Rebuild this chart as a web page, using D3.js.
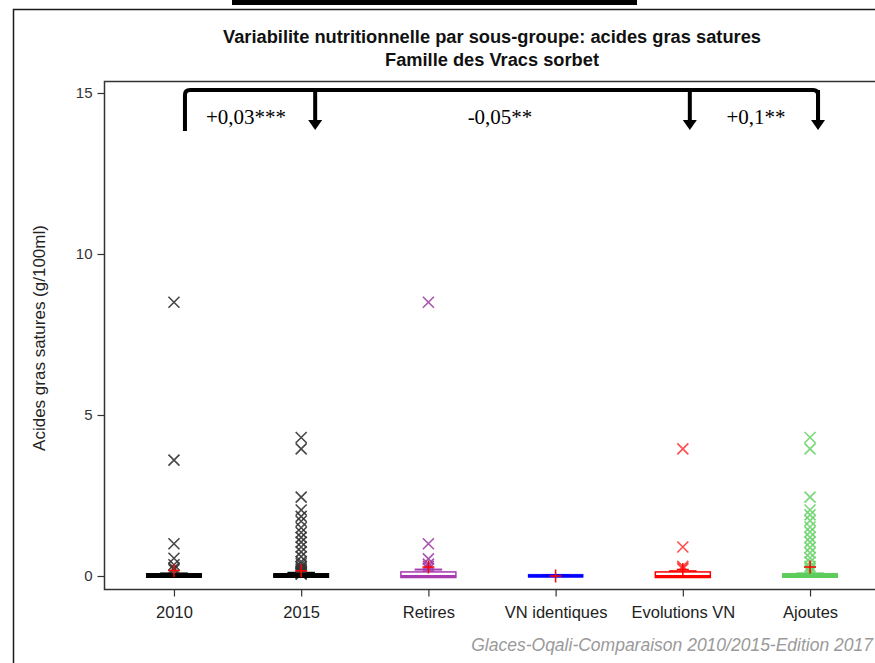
<!DOCTYPE html>
<html>
<head>
<meta charset="utf-8">
<script src="https://cdn.jsdelivr.net/npm/d3@7"></script>
<style>
  html, body { margin: 0; padding: 0; background: #fff; }
  svg { display: block; }
</style>
</head>
<body>
<svg id="chart" width="875" height="663"></svg>
<script>
// Sub-groups shown on the x axis
const categories = ["2010", "2015", "Retires", "VN identiques", "Evolutions VN", "Ajoutes"];

// Box statistics per sub-group (g/100ml)
const boxQ1      = [0, 0, 0, 0, 0, 0];
const boxMedian  = [0, 0, 0, 0, 0, 0];
const boxQ3      = [0.03, 0.03, 0.08, 0.01, 0.08, 0.03];
const whiskerHigh= [0.08, 0.1, 0.2, 0.02, 0.15, 0.08];
const means      = [0.17, 0.16, 0.28, 0.0, 0.2, 0.28];

// Outlying products per sub-group
const outliers2010   = [8.5, 3.6, 1.0, 0.55, 0.35, 0.25, 0.2];
const outliers2015   = [4.3, 3.95, 2.45, 2.05, 1.85, 1.7, 1.5, 1.35, 1.2, 1.05, 0.9, 0.75, 0.6, 0.45, 0.38, 0.3, 0.25, 0.2, 0.15, 0.12, 0.1, 0.08, 0.06];
const outliersRetires= [8.5, 1.0, 0.53, 0.37, 0.3, 0.22];
const outliersVN     = [];
const outliersEvol   = [3.95, 0.9, 0.3, 0.25, 0.22];
const outliersAjoutes= [4.3, 3.95, 2.45, 2.05, 1.9, 1.72, 1.52, 1.37, 1.2, 1.05, 0.88, 0.72, 0.56, 0.43, 0.3, 0.22, 0.15, 0.12];
const outliers = [outliers2010, outliers2015, outliersRetires, outliersVN, outliersEvol, outliersAjoutes];

// Colours per sub-group
const boxColors     = ["#000000", "#000000", "#a83ab0", "#0000ff", "#ff0000", "#5ccc5c"];
const markerColors  = ["#333333", "#333333", "#a040a8", "#0000ff", "#ff3a3a", "#6bd46b"];
const boxFilled     = [true, true, false, true, false, true];

// Y axis ticks
const yTicks = [0, 5, 10, 15];

// Comparison brackets
const comparisons = [
  { from: "2010", to: "2015", label: "+0,03***" },
  { from: "2010", to: "Evolutions VN", label: "-0,05**" },
  { from: "2010", to: "Ajoutes", label: "+0,1**" }
];

const titleLines = ["Variabilite nutritionnelle par sous-groupe: acides gras satures", "Famille des Vracs sorbet"];
const titleWidths = [538, 214];
const yLabel = "Acides gras satures (g/100ml)";
const footer = "Glaces-Oqali-Comparaison 2010/2015-Edition 2017";

const svg = d3.select("#chart");

// Outer frame and fragment of the heading bar above it
svg.append("rect").attr("x", 232).attr("y", -2).attr("width", 405).attr("height", 7).attr("fill", "#000");
svg.append("path").attr("d", "M13.5,663 V9.5 H880")
  .attr("fill", "none").attr("stroke", "#1a1a1a").attr("stroke-width", 1.5);

const plot = { left: 104, top: 81, right: 880, bottom: 589 };

const x = d3.scalePoint().domain(categories).range([plot.left, plot.right]).padding(0.55);
const y = d3.scaleLinear().domain([0, 15]).range([576, 93]);

// Titles (narrow bold face)
svg.append("g").selectAll("text").data(titleLines).join("text")
  .attr("x", 492).attr("y", (d, i) => 43 + i * 23)
  .attr("text-anchor", "middle")
  .attr("font-family", "Liberation Sans Narrow, Arial Narrow, Liberation Sans, sans-serif")
  .attr("font-weight", "bold").attr("font-size", 17.5)
  .attr("textLength", (d, i) => titleWidths[i]).attr("lengthAdjust", "spacingAndGlyphs")
  .attr("fill", "#111")
  .text(d => d);

// Plot frame
svg.append("path")
  .attr("d", `M${plot.right},${plot.top + 0.5} H${plot.left + 0.5} V${plot.bottom + 0.5} H${plot.right}`)
  .attr("fill", "none").attr("stroke", "#333").attr("stroke-width", 1.5);

// Y axis
const yAxis = svg.append("g").attr("transform", `translate(${plot.left + 0.5},0)`)
  .call(d3.axisLeft(y).tickValues(yTicks).tickSize(7).tickPadding(5));
yAxis.select(".domain").remove();
yAxis.selectAll("line").attr("stroke", "#333").attr("stroke-width", 1.2);
yAxis.selectAll("text").attr("font-family", "Liberation Sans, Arial, sans-serif")
  .attr("font-size", 15).attr("fill", "#333");

// X axis
const xAxis = svg.append("g").attr("transform", `translate(0,${plot.bottom + 0.5})`)
  .call(d3.axisBottom(x).tickSize(7).tickPadding(10));
xAxis.select(".domain").remove();
xAxis.selectAll("line").attr("stroke", "#333").attr("stroke-width", 1.2);
xAxis.selectAll("text").attr("font-family", "Liberation Sans, Arial, sans-serif")
  .attr("font-size", 16.5).attr("fill", "#222");

// Y axis title
svg.append("text")
  .attr("transform", "translate(45,338) rotate(-90)")
  .attr("text-anchor", "middle")
  .attr("font-family", "Liberation Sans, Arial, sans-serif")
  .attr("font-size", 17).attr("fill", "#222")
  .text(yLabel);

// Box plots
const boxW = 55;
const groups = svg.append("g").selectAll("g").data(categories).join("g")
  .attr("transform", d => `translate(${x(d)},0)`);

groups.each(function (cat, i) {
  const g = d3.select(this);
  const col = boxColors[i];
  // whisker
  g.append("line").attr("x1", 0).attr("x2", 0)
    .attr("y1", y(boxQ3[i])).attr("y2", y(whiskerHigh[i]))
    .attr("stroke", col).attr("stroke-width", 1.5);
  g.append("line").attr("x1", -boxW / 4).attr("x2", boxW / 4)
    .attr("y1", y(whiskerHigh[i])).attr("y2", y(whiskerHigh[i]))
    .attr("stroke", col).attr("stroke-width", 2);
  // outliers as X markers
  g.append("g").selectAll("path").data(outliers[i]).join("path")
    .attr("d", v => `M-5.5,${y(v) - 5.5} L5.5,${y(v) + 5.5} M5.5,${y(v) - 5.5} L-5.5,${y(v) + 5.5}`)
    .attr("stroke", markerColors[i]).attr("stroke-width", 1.6).attr("fill", "none")
    .attr("opacity", 0.9);
  // box
  const top = y(boxQ3[i]), bot = y(boxQ1[i]);
  g.append("rect").attr("x", -boxW / 2).attr("y", top - 1.5)
    .attr("width", boxW).attr("height", bot - top + 3)
    .attr("fill", boxFilled[i] ? col : "#fff")
    .attr("stroke", col).attr("stroke-width", boxFilled[i] ? (i === 3 ? 0.5 : 1) : 1.5);
  // median
  g.append("line").attr("x1", -boxW / 2).attr("x2", boxW / 2)
    .attr("y1", y(boxMedian[i])).attr("y2", y(boxMedian[i]))
    .attr("stroke", col).attr("stroke-width", i === 3 ? 1.5 : 2);
  // mean marker
  const my = y(means[i]);
  g.append("path")
    .attr("d", `M-6,${my} H6 M0,${my - 6.5} V${my + 6.5}`)
    .attr("stroke", "#ff0000").attr("stroke-width", 1.5).attr("fill", "none");
});

// Comparison brackets
const brY = 90, r = 5;
const x0 = x("2010") + 11;
const ends = comparisons.map(c => x(c.to) + (c.to === "Ajoutes" ? 8 : (c.to === "2015" ? 14 : 7)));
const xEnd = d3.max(ends);
const br = svg.append("g").attr("fill", "none").attr("stroke", "#000").attr("stroke-width", 4);
br.append("path")
  .attr("d", `M${x0},131 V${brY + r} Q${x0},${brY} ${x0 + r},${brY} H${xEnd - r} Q${xEnd},${brY} ${xEnd},${brY + r} V121`)
  .attr("stroke-linejoin", "round");
ends.forEach(ex => {
  br.append("line").attr("x1", ex).attr("x2", ex).attr("y1", brY).attr("y2", 121);
  svg.append("path").attr("d", `M${ex - 7},120 L${ex + 7},120 L${ex},130 Z`).attr("fill", "#000");
});

// Bracket labels
const labelX = [246, 500, 756];
svg.append("g").selectAll("text").data(comparisons).join("text")
  .attr("x", (d, i) => labelX[i]).attr("y", 124)
  .attr("text-anchor", "middle")
  .attr("font-family", "Liberation Serif, Times New Roman, serif")
  .attr("font-size", 21).attr("fill", "#000")
  .text(d => d.label);

// Footer
svg.append("text")
  .attr("x", 873).attr("y", 651)
  .attr("text-anchor", "end")
  .attr("font-family", "Liberation Sans, Arial, sans-serif")
  .attr("font-style", "italic").attr("font-size", 17.5).attr("fill", "#9a9a9a")
  .text(footer);
</script>
</body>
</html>
